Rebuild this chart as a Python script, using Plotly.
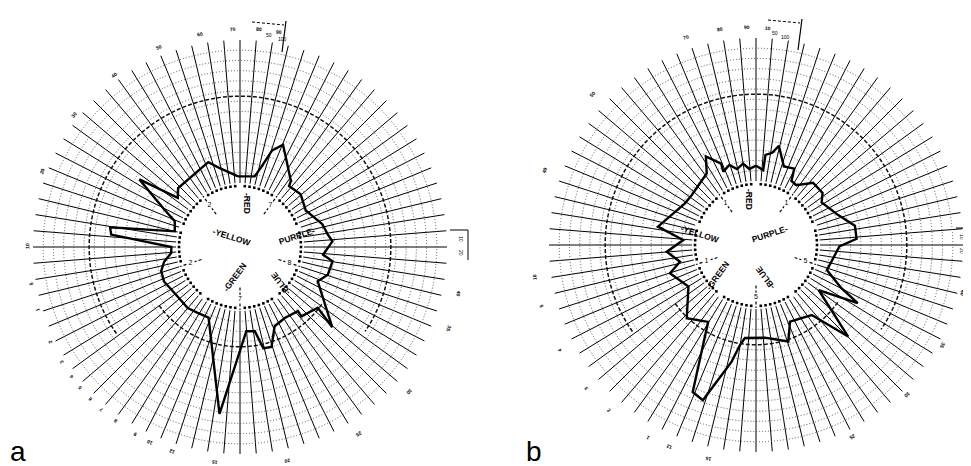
import numpy as np
import plotly.graph_objects as go

# Hue wheel: 80 spokes, RED at the top, hues running clockwise
spoke_step = 4.5
hue_angles = [0, 72, 144, 216, 288]
hue_text = ["-RED", "PURPLE-", "-BLUE", "-GREEN", "-YELLOW"]
hue_textangle = [90, -18, -126, -54, 18]
divider_angles = [36, 108, 180, 252, 324]

# Panel a: profile (hue angle in degrees, deviation in grid units)
a_theta = [358.4, 11.7, 14.8, 18.4, 22.8, 27.5, 37.6, 38.8, 49, 61, 74.5, 81.6,
           86.5, 95.3, 98.8, 107.5, 113.8, 131, 128, 138.5, 137.9, 147.8, 156.4,
           162.5, 167, 170, 175.7, 187, 204, 212.7, 220.6, 233.3, 245.6, 253, 259,
           265, 270, 275.5, 278.6, 283.5, 291.5, 296.3, 303.9, 308.3, 313.6, 339.5,
           345.6, 358.4]
a_value = [0.65, 0.8, 1.8, 3.7, 4.6, 3.5, 1.9, 1.4, 1.6, 1.1, 2.1, 2.4,
           2.8, 1.9, 2.9, 2.75, 2.05, 5.7, 3.4, 2.8, 2.2, 1.95, 2.2,
           4.0, 3.9, 2.1, 2.0, 10.2, 1.3, 1.4, 1.6, 1.55, 1.9, 1.8, 1.3,
           0.5, 0.45, 6.4, 6.6, 0.3, 0.6, 2.0, 5.6, 1.5, 2.1, 2.6,
           1.7, 0.65]
a_divider_text = ["7", "8", "7", "2", "2"]
a_label_r = [44, 37, 45, 37, 33]
a_note_angles = [347.7, 356.8, 3.7, 8.9, 336.3, 322.3, 307.3, 290.4, 270.3, 260.3,
                 253.3, 244.2, 238, 233.5, 229.8, 225.8, 221.6, 216.8, 210.6, 206.4,
                 200, 188.3, 169.1, 149.1, 131.9, 111.9, 102.4]
a_note_text = ["60", "70", "80", "90", "50", "40", "30", "20", "10", "5",
               "1", "2", "3", "4", "5", "6", "7", "8", "9", "10",
               "12", "15", "20", "25", "30", "35", "40"]

# Panel b
b_theta = [0, 5.5, 6, 10, 13, 19.5, 26.6, 29, 34, 42.5, 52, 57, 70, 79, 86.5, 91,
           109.5, 116.8, 119.7, 125.8, 134.8, 141.5, 156.1, 161.5, 174.5, 186.8,
           189.1, 191.8, 198.9, 203.3, 211.9, 223.4, 238.4, 251.8, 257.6, 265.7,
           273.9, 280.6, 300.4, 307.9, 325.5, 330.5, 336.8, 336, 341.6, 346, 351,
           355, 360]
b_value = [1.5, 1.1, 2.6, 2.9, 3.7, 1.9, 2.1, 0.9, 0.8, 2.0, 2.0, 1.4, 2.3, 3.6, 3.6, 1.9,
           1.1, 3.1, 5.2, 1.3, 6.45, 2.5, 1.95, 3.7, 2.85, 2.9,
           3.65, 5.4, 9.8, 9.4, 2.6, 3.6, 1.5, 2.6, 1.35, 2.5,
           0.87, 3.5, 1.8, 1.7, 2.25, 3.7, 2.4, 1.6, 2.0, 1.4, 1.8,
           1.2, 1.5]
b_divider_text = ["1", "5", "5", "1", "1"]
b_label_r = [46, 37, 41, 38, 35]
b_note_angles = [343, 352, 359, 4.5, 314, 290, 261.5, 253.8, 241, 228.7,
                 220.5, 208, 201.7, 191, 151.7, 133.5, 117.6, 102.7]
b_note_text = ["70", "80", "90", "10", "50", "40", "10", "5", "4", "3",
               "2", "1", "12", "15", "25", "30", "35", "40"]

# small scale keys beside each wheel
key_top_text = ["50", "100"]
key_right_text = ["10", "20"]

# reference contours (grid units)
ref_high = 8.5
ref_low = 3.5

W, H = 971, 466
R_OUT, R_IN, PX_PER_UNIT = 207, 64, 10.2
U_MAX = 14
U_CENTER = -R_IN / PX_PER_UNIT
R_NOTE = 218


def domain(cx, cy):
    return dict(x=[(cx - R_OUT) / W, (cx + R_OUT) / W],
                y=[(H - cy - R_OUT) / H, (H - cy + R_OUT) / H])


fig = go.Figure()
spokes = np.arange(0, 360, spoke_step)

panels = [
    ("polar", "polar2", (232, 239), a_theta, a_value, a_divider_text, a_label_r,
     a_note_angles, a_note_text, "a", 210),
    ("polar3", "polar4", (748, 237), b_theta, b_value, b_divider_text, b_label_r,
     b_note_angles, b_note_text, "b", 200),
]

annotations = []
shapes = []
for (grid_name, over_name, (cx, cy), theta, value, div_text, label_r,
     note_ang, note_txt, tag, key_dx) in panels:
    dom = domain(cx, cy)
    fig.update_layout(**{
        grid_name: dict(
            domain=dom,
            hole=R_IN / R_OUT,
            bgcolor="white",
            radialaxis=dict(range=[0, U_MAX], tickvals=list(range(1, U_MAX)),
                            showticklabels=False, ticks="", showline=False,
                            gridcolor="#555", gridwidth=1, griddash="1px,2px"),
            angularaxis=dict(direction="clockwise", rotation=90,
                             tickvals=list(spokes), showticklabels=False, ticks="",
                             showline=False, gridcolor="black", gridwidth=1.25),
        ),
        over_name: dict(
            domain=dom,
            bgcolor="rgba(0,0,0,0)",
            radialaxis=dict(range=[U_CENTER, U_MAX], visible=False),
            angularaxis=dict(direction="clockwise", rotation=90, showgrid=False,
                             showticklabels=False, ticks="", showline=False),
        ),
    })

    # the measured profile (on the gridded subplot so the grid gets drawn)
    fig.add_trace(go.Scatterpolar(theta=theta, r=value, mode="lines",
                                  line=dict(color="black", width=2.4),
                                  subplot=grid_name, showlegend=False))

    # darker dashed reference arcs
    arc_top = np.arange(-125, 125.1, 1.5)
    arc_bot = np.arange(125, 235.1, 1.5)
    fig.add_trace(go.Scatterpolar(theta=arc_top, r=[ref_high] * len(arc_top), mode="lines",
                                  line=dict(color="#111", width=1.5, dash="4px,2px"),
                                  subplot=over_name, showlegend=False, hoverinfo="skip"))
    fig.add_trace(go.Scatterpolar(theta=arc_bot, r=[ref_low] * len(arc_bot), mode="lines",
                                  line=dict(color="#111", width=1.5, dash="4px,2px"),
                                  subplot=over_name, showlegend=False, hoverinfo="skip"))

    # small marks on the inner ring
    marks = [s for i, s in enumerate(spokes) if i % 8 != 0]
    fig.add_trace(go.Scatterpolar(theta=marks, r=[-0.3] * len(marks), mode="markers",
                                  marker=dict(symbol="square", size=2.6, color="black"),
                                  subplot=over_name, showlegend=False, hoverinfo="skip"))

    # dashed dividers between the named hues
    dt, dr = [], []
    for d in divider_angles:
        dt += [d, d, None, d, d, None]
        dr += [-2.3, -1.6, None, -0.75, -0.1, None]
    fig.add_trace(go.Scatterpolar(theta=dt, r=dr, mode="lines",
                                  line=dict(color="black", width=1.2, dash="3px,2px"),
                                  subplot=over_name, showlegend=False, hoverinfo="skip"))
    fig.add_trace(go.Scatterpolar(theta=divider_angles, r=[-1.18] * 5, mode="text",
                                  text=div_text,
                                  textfont=dict(family="Liberation Sans", size=7, color="black"),
                                  subplot=over_name, showlegend=False, hoverinfo="skip"))

    px = (dom["x"][0] + dom["x"][1]) / 2
    py = (dom["y"][0] + dom["y"][1]) / 2

    # small notes printed outside the ring
    for ang, txt in zip(note_ang, note_txt):
        annotations.append(dict(
            x=px, y=py, xref="paper", yref="paper", showarrow=False,
            xshift=R_NOTE * np.sin(np.radians(ang)), yshift=R_NOTE * np.cos(np.radians(ang)),
            text="<b>%s</b>" % txt, textangle=ang if ang < 180 else ang - 360,
            font=dict(family="Liberation Sans", size=5, color="black"),
        ))

    # hue names inside the ring
    for ang, txt, ta, rr in zip(hue_angles, hue_text, hue_textangle, label_r):
        annotations.append(dict(
            x=px, y=py, xref="paper", yref="paper", showarrow=False,
            xshift=rr * np.sin(np.radians(ang)), yshift=rr * np.cos(np.radians(ang)),
            text="<b>%s</b>" % txt, textangle=ta,
            font=dict(family="Liberation Sans", size=8.5, color="black"),
        ))

    # scale keys: one above right of the wheel, one at its right side
    kx, ky = cx + 12, cy - 225
    shapes.append(dict(type="line", xref="paper", yref="paper",
                       x0=kx / W, y0=1 - ky / H, x1=(kx + 32) / W, y1=1 - (ky + 3) / H,
                       line=dict(color="black", width=1, dash="3px,2px")))
    shapes.append(dict(type="line", xref="paper", yref="paper",
                       x0=(kx + 34) / W, y0=1 - (ky - 1) / H, x1=(kx + 30) / W, y1=1 - (ky + 30) / H,
                       line=dict(color="black", width=1.2)))
    for i, t in enumerate(key_top_text):
        annotations.append(dict(x=(kx + 12 + 12 * i) / W, y=1 - (ky + 8 + 4 * i) / H,
                                xref="paper", yref="paper", showarrow=False, text=t,
                                font=dict(family="Liberation Sans", size=5, color="black")))
    rx, ry = cx + key_dx, cy - 17
    shapes.append(dict(type="line", xref="paper", yref="paper",
                       x0=rx / W, y0=1 - ry / H, x1=(rx + 18) / W, y1=1 - ry / H,
                       line=dict(color="black", width=1)))
    shapes.append(dict(type="line", xref="paper", yref="paper",
                       x0=(rx + 18) / W, y0=1 - ry / H, x1=(rx + 18) / W, y1=1 - (ry + 30) / H,
                       line=dict(color="black", width=1)))
    for i, t in enumerate(key_right_text):
        annotations.append(dict(x=(rx + 11) / W, y=1 - (ry + 9 + 14 * i) / H,
                                xref="paper", yref="paper", showarrow=False, text=t,
                                textangle=90,
                                font=dict(family="Liberation Sans", size=5, color="black")))

    annotations.append(dict(
        x=(cx - 232) / W, y=0, xref="paper", yref="paper", showarrow=False,
        xanchor="left", yanchor="bottom", yshift=5, text=tag,
        font=dict(family="Liberation Sans", size=28, color="black"),
    ))

fig.update_layout(
    width=W, height=H,
    margin=dict(l=0, r=0, t=0, b=0),
    paper_bgcolor="white",
    showlegend=False,
    annotations=annotations,
    shapes=shapes,
)

fig.write_html("out.html")
